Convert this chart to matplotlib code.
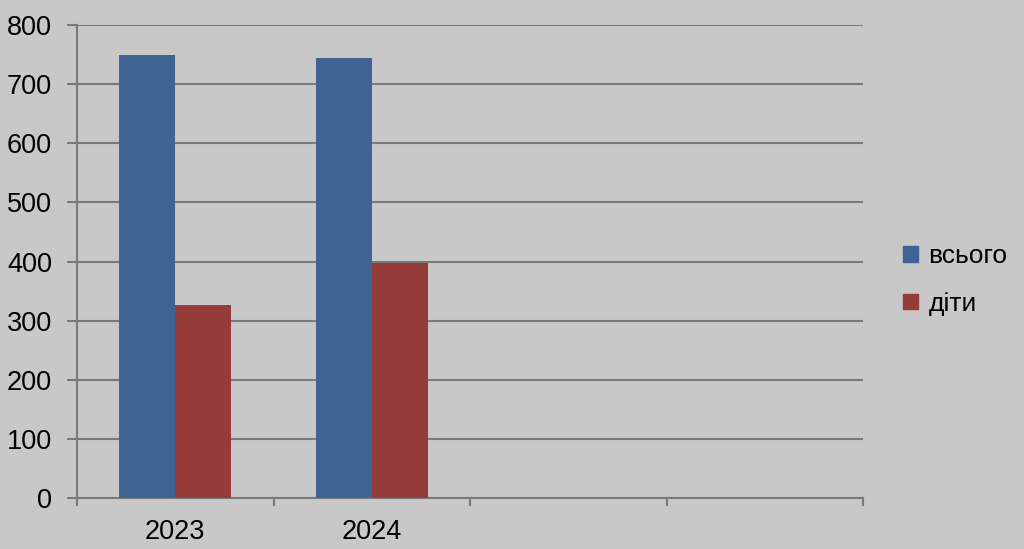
import numpy as np
import matplotlib.pyplot as plt
from matplotlib.patches import Patch

plt.rcParams['font.family'] = ['Liberation Sans', 'DejaVu Sans']

categories = ['2023', '2024', '', '']
vsogo = [750, 745]
dity = [326, 397]
labels = ['всього', 'діти']

bg = '#c8c8c8'
blue = '#3f6392'
red = '#953b3a'
grid = '#7a7a7a'

fig = plt.figure(figsize=(10.24, 5.49), dpi=100, facecolor=bg)
ax = fig.add_axes([77/1024, 1 - 498/549, (863 - 77)/1024, (498 - 25)/549])
ax.set_facecolor(bg)

w = 0.285
x = np.arange(len(vsogo))
ax.bar(x - w/2, vsogo, width=w, color=blue, zorder=3)
ax.bar(x + w/2, dity, width=w, color=red, zorder=3)

ax.set_xlim(-0.5, len(categories) - 0.5)
ax.set_ylim(0, 800)
ax.set_yticks(range(0, 801, 100))
ax.tick_params(axis='y', length=7, width=1.5, color=grid, pad=11, labelsize=19.5)

# category labels centred, ticks on category boundaries
ax.set_xticks(np.arange(len(categories)))
ax.set_xticklabels(categories, fontsize=19.5)
ax.tick_params(axis='x', which='major', length=0, pad=15)
ax.set_xticks(np.arange(len(categories) + 1) - 0.5, minor=True)
ax.tick_params(axis='x', which='minor', length=6, width=1.5, color=grid)

ax.yaxis.grid(True, color=grid, linewidth=1.5, zorder=0)
for s in ['top', 'right']:
    ax.spines[s].set_visible(False)
for s in ['left', 'bottom']:
    ax.spines[s].set_color(grid)
    ax.spines[s].set_linewidth(1.5)

handles = [Patch(color=blue), Patch(color=red)]
fig.legend(handles, labels, loc='center left', bbox_to_anchor=(890/1024, 1 - 280/549),
           frameon=False, fontsize=19, handlelength=0.55, handleheight=0.55,
           handletextpad=0.4, labelspacing=0.9, borderpad=0)

fig.savefig('out.png', dpi=100, facecolor=bg)
